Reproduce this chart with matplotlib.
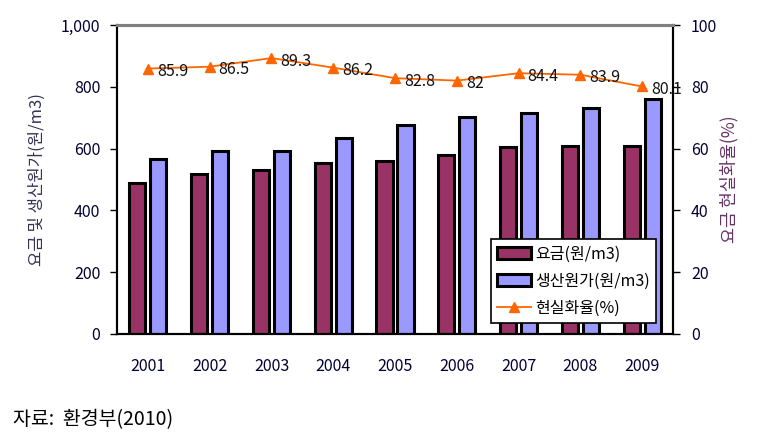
import matplotlib
matplotlib.use("Agg")
import matplotlib.pyplot as plt
import numpy as np

plt.rcParams['font.family'] = ['Noto Sans CJK KR', 'DejaVu Sans']

# 데이터
years = ['2001', '2002', '2003', '2004', '2005', '2006', '2007', '2008', '2009']
fee = [490, 517, 531, 552, 561, 578, 604, 609, 609]
cost = [566, 592, 592, 635, 676, 703, 716, 730, 759]
ratio = [85.9, 86.5, 89.3, 86.2, 82.8, 82, 84.4, 83.9, 80.1]
ratio_labels = ['85.9', '86.5', '89.3', '86.2', '82.8', '82', '84.4', '83.9', '80.1']

tick_color = '#000033'
fs = 11.5

fig = plt.figure(figsize=(7.64, 4.34), dpi=100)
ax = fig.add_axes([117 / 764, 100 / 434, 556 / 764, 309 / 434])
ax2 = ax.twinx()

x = np.arange(len(years))
w = 0.26
b1 = ax.bar(x - 0.17, fee, w, color='#993366', edgecolor='black', linewidth=2.2,
            label='요금(원/m3)')
b2 = ax.bar(x + 0.17, cost, w, color='#9999FF', edgecolor='black', linewidth=2.2,
            label='생산원가(원/m3)')

ln, = ax2.plot(x, ratio, color='#FF6600', marker='^', markersize=7,
               linewidth=1.3, label='현실화율(%)')
for xi, v, t in zip(x, ratio, ratio_labels):
    ax2.annotate(t, (xi, v), xytext=(9, -3), textcoords='offset pixels',
                 ha='left', va='center', fontsize=fs, color='#111111',
                 clip_on=False)

ax.set_xlim(-0.5, len(years) - 0.5)
ax.set_ylim(0, 1000)
ax2.set_ylim(0, 100)
ax.set_yticks(range(0, 1001, 200))
ax.set_yticklabels(['0', '200', '400', '600', '800', '1,000'])
ax2.set_yticks(range(0, 101, 20))
ax.set_xticks(x)
ax.set_xticklabels(years)

ax.tick_params(axis='y', direction='out', length=5, width=1, pad=7,
               labelsize=fs, labelcolor=tick_color)
ax2.tick_params(axis='y', direction='out', length=5, width=1, pad=8,
                labelsize=fs, labelcolor=tick_color)
ax.tick_params(axis='x', length=0, pad=17, labelsize=fs, labelcolor=tick_color)

for a in (ax, ax2):
    a.spines['top'].set_color('#808080')
    a.spines['top'].set_linewidth(2.2)
    a.spines['left'].set_linewidth(1.5)
    a.spines['right'].set_linewidth(1.5)
    a.spines['bottom'].set_linewidth(1.5)

ax.set_ylabel('요금 및 생산원가(원/m3)', fontsize=12, color='#333355', labelpad=11)
ax2.set_ylabel('요금 현실화율(%)', fontsize=12.5, color='#663366', labelpad=2)

leg = ax2.legend([b1, b2, ln], ['요금(원/m3)', '생산원가(원/m3)', '현실화율(%)'],
                 loc='lower left', bbox_to_anchor=(0.672, 0.036),
                 fontsize=fs, frameon=True, fancybox=False, framealpha=1,
                 edgecolor='black', handlelength=2.1, handleheight=0.8,
                 handletextpad=0.3, labelspacing=0.62, borderpad=0.4,
                 borderaxespad=0)
leg.get_frame().set_linewidth(1.2)

fig.text(13 / 764, 1 - 420 / 434, '자료:  환경부(2010)', fontsize=14,
         ha='left', va='center', color='black')

fig.savefig('out.png', dpi=100)
